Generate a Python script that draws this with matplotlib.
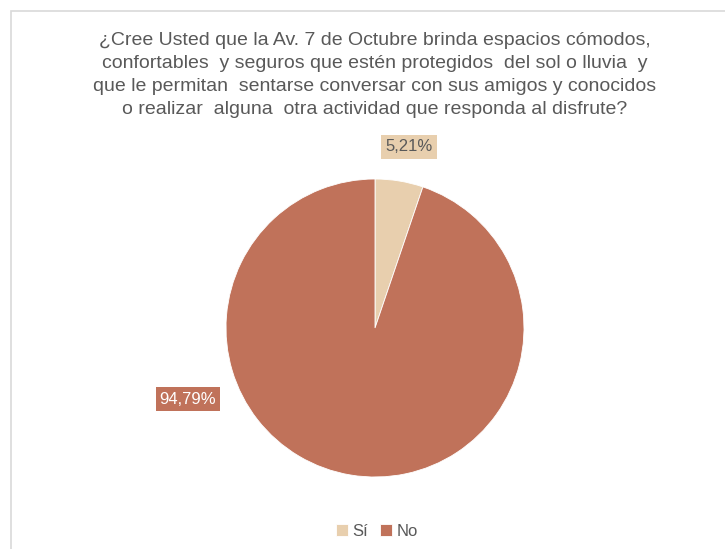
import matplotlib.pyplot as plt
from matplotlib.patches import Rectangle

# Data
categories = ['Sí', 'No']
values = [5.21, 94.79]
colors = ['#E8CFAE', '#C0725A']
label_text_colors = ['#595959', 'white']

title = ('¿Cree Usted que la Av. 7 de Octubre brinda espacios cómodos,\n'
         'confortables  y seguros que estén protegidos  del sol o lluvia  y\n'
         'que le permitan  sentarse conversar con sus amigos y conocidos\n'
         'o realizar  alguna  otra actividad que responda al disfrute?')

plt.rcParams['font.family'] = ['Liberation Sans', 'DejaVu Sans']

W, H = 725, 549
fig = plt.figure(figsize=(W / 100, H / 100), dpi=100)

# light frame around chart area
fig.patches.append(Rectangle((11 / W, -0.1), 1.2, 1 - 11 / H + 0.1,
                             transform=fig.transFigure, fill=False,
                             edgecolor='#D9D9D9', linewidth=1.2))

fig.text(375 / W, 1 - 75 / H, title, ha='center', va='center',
         fontsize=14, color='#595959', linespacing=1.45)

# Pie
cx, cy, r = 375, 328, 149
ax = fig.add_axes([(cx - r) / W, 1 - (cy + r) / H, 2 * r / W, 2 * r / H])
wedges, _ = ax.pie(values, colors=colors, startangle=90, counterclock=False,
                   radius=1, wedgeprops=dict(linewidth=0.6, edgecolor='white'))
ax.set_xlim(-1, 1)
ax.set_ylim(-1, 1)
ax.set_aspect('equal')
ax.axis('off')

label_pos = [(0.23, 1.215), (-1.255, -0.477)]
for val, col, tcol, (x, y) in zip(values, colors, label_text_colors, label_pos):
    ax.text(x, y, f'{val:.2f}%'.replace('.', ','), ha='center', va='center',
            fontsize=12, color=tcol, clip_on=False,
            bbox=dict(boxstyle='square,pad=0.25', facecolor=col, edgecolor='none'))

fig.legend(wedges, categories, loc='center', bbox_to_anchor=(377 / W, 1 - 531 / H),
           ncol=2, frameon=False, fontsize=12, handlelength=0.7, handleheight=0.7,
           handletextpad=0.3, columnspacing=0.7, labelcolor='#595959')

fig.savefig('out.png', dpi=100, facecolor='white')
